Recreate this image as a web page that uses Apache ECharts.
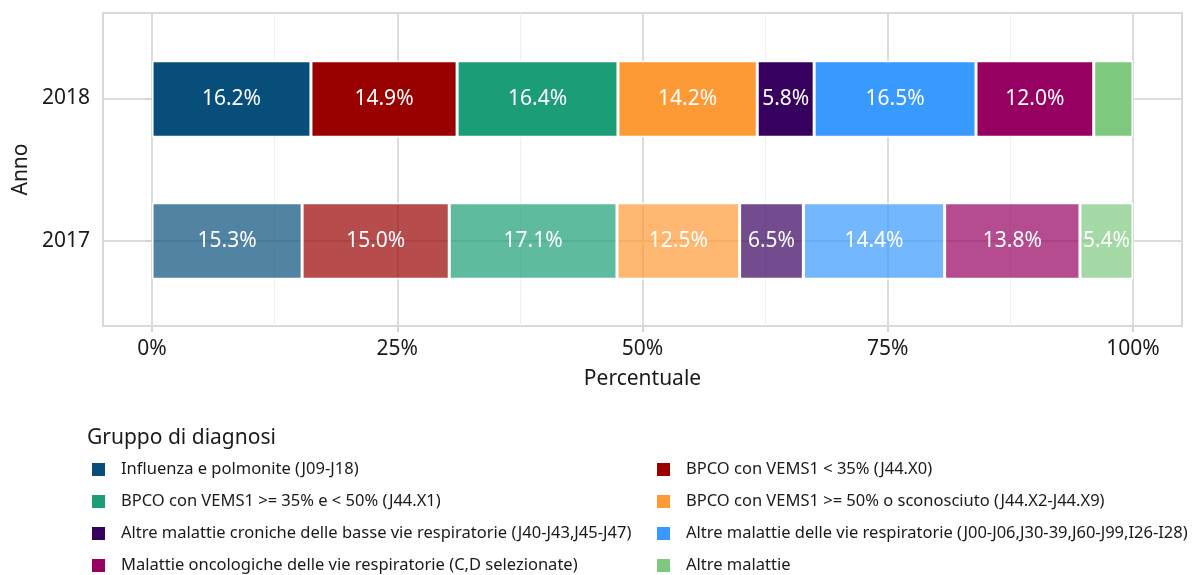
<!DOCTYPE html>
<html>
<head>
<meta charset="utf-8">
<script src="https://cdn.jsdelivr.net/npm/echarts@6/dist/echarts.min.js"></script>
<style>
html,body{margin:0;padding:0;background:#fff;}
#chart{width:1200px;height:575px;}
</style>
</head>
<body>
<div id="chart"></div>
<script>
var years = ['2017', '2018'];
var groups = [
    'Influenza e polmonite (J09-J18)',
    'BPCO con VEMS1 < 35% (J44.X0)',
    'BPCO con VEMS1 >= 35% e < 50% (J44.X1)',
    'BPCO con VEMS1 >= 50% o sconosciuto (J44.X2-J44.X9)',
    'Altre malattie croniche delle basse vie respiratorie (J40-J43,J45-J47)',
    'Altre malattie delle vie respiratorie (J00-J06,J30-39,J60-J99,I26-I28)',
    'Malattie oncologiche delle vie respiratorie (C,D selezionate)',
    'Altre malattie'
];
var colors = ['#074e7b', '#990000', '#1b9e77', '#fd9a36', '#36005f', '#3899ff', '#960060', '#7fc97f'];
var share2017 = [15.3, 15.0, 17.1, 12.5, 6.5, 14.4, 13.8, 5.4];
var share2018 = [16.2, 14.9, 16.4, 14.2, 5.8, 16.5, 12.0, 4.0];
var xTicks = [0, 25, 50, 75, 100];
var xMinorTicks = [12.5, 37.5, 62.5, 87.5];
var yTicks = [1, 2];

var font = 'Noto Sans';
var myChart = echarts.init(document.getElementById('chart'));

//---2017 drawn lighter (alpha), label stays white
function fade(hex, a){
    var r = parseInt(hex.substr(1,2),16), g = parseInt(hex.substr(3,2),16), b = parseInt(hex.substr(5,2),16);
    return 'rgba(' + r + ',' + g + ',' + b + ',' + a + ')';
}

var series = groups.map(function(name, i){
    return {
        type:'bar',
        name:name,
        stack:'tot',
        xAxisIndex:2,
        yAxisIndex:1,
        barWidth:'54%',
        itemStyle:{color:colors[i], borderColor:'#fff', borderWidth:1.5},
        label:{
            show:true,
            position:'inside',
            color:'#fff',
            fontFamily:font,
            fontSize:21,
            formatter:function(p){
                return p.value >= 5 ? p.value.toFixed(1) + '%' : '';//---small slices unlabelled
            }
        },
        data:[
            {value:share2017[i], itemStyle:{color:fade(colors[i], 0.7)}},
            share2018[i]
        ]
    };
});

var legendText = {fontFamily:font, fontSize:16.5, color:'#1a1a1a', padding:[0,0,0,10]};

var option = {
    backgroundColor:'#fff',
    animation:false,
    title:{
        text:'Gruppo di diagnosi',
        left:87,
        top:428,
        padding:0,
        textStyle:{fontFamily:font, fontSize:21, fontWeight:'normal', color:'#1a1a1a'}
    },
    legend:[
        {
            orient:'vertical', left:90, top:461, padding:0,
            itemWidth:15, itemHeight:15, itemGap:15, icon:'rect',
            data:[groups[0], groups[2], groups[4], groups[6]],
            textStyle:legendText
        },
        {
            orient:'vertical', left:655, top:461, padding:0,
            itemWidth:15, itemHeight:15, itemGap:15, icon:'rect',
            data:[groups[1], groups[3], groups[5], groups[7]],
            textStyle:legendText
        }
    ],
    grid:[
        {left:103, right:18, top:13, bottom:249, show:true, borderColor:'#d9d9d9', borderWidth:2},
        {left:103, right:18, top:28, bottom:263}
    ],
    xAxis:[
        {
            gridIndex:0, type:'value', min:-5, max:105,
            name:'Percentuale', nameLocation:'middle', nameGap:43,
            nameTextStyle:{fontFamily:font, fontSize:21, color:'#1a1a1a'},
            axisLine:{show:false},
            axisTick:{show:true, length:6, customValues:xTicks, lineStyle:{color:'#d4d4d4', width:2}},
            axisLabel:{customValues:xTicks, margin:13, fontFamily:font, fontSize:21, color:'#1a1a1a',
                formatter:function(v){ return v + '%'; }},
            splitLine:{show:true, lineStyle:{color:'#dcdcdc', width:2}}
        },
        {
            gridIndex:0, type:'value', min:-5, max:105, position:'bottom',
            axisLine:{show:false},
            axisTick:{show:false, customValues:xMinorTicks},
            axisLabel:{show:false, customValues:xMinorTicks},
            splitLine:{show:true, lineStyle:{color:'#efefef', width:1}}
        },
        {gridIndex:1, type:'value', min:-5, max:105, show:false}
    ],
    yAxis:[
        {
            gridIndex:0, type:'value', min:0.4, max:2.6,
            name:'Anno', nameLocation:'middle', nameGap:71,
            nameTextStyle:{fontFamily:font, fontSize:21, color:'#1a1a1a'},
            axisLine:{show:false},
            axisTick:{show:true, length:6, customValues:yTicks, lineStyle:{color:'#d4d4d4', width:2}},
            axisLabel:{customValues:yTicks, margin:13, fontFamily:font, fontSize:21, color:'#1a1a1a',
                formatter:function(v){ return years[Math.round(v) - 1]; }},
            splitLine:{show:true, lineStyle:{color:'#dcdcdc', width:2}}
        },
        {gridIndex:1, type:'category', data:years, show:false}
    ],
    series:series
};

myChart.setOption(option);
</script>
</body>
</html>
